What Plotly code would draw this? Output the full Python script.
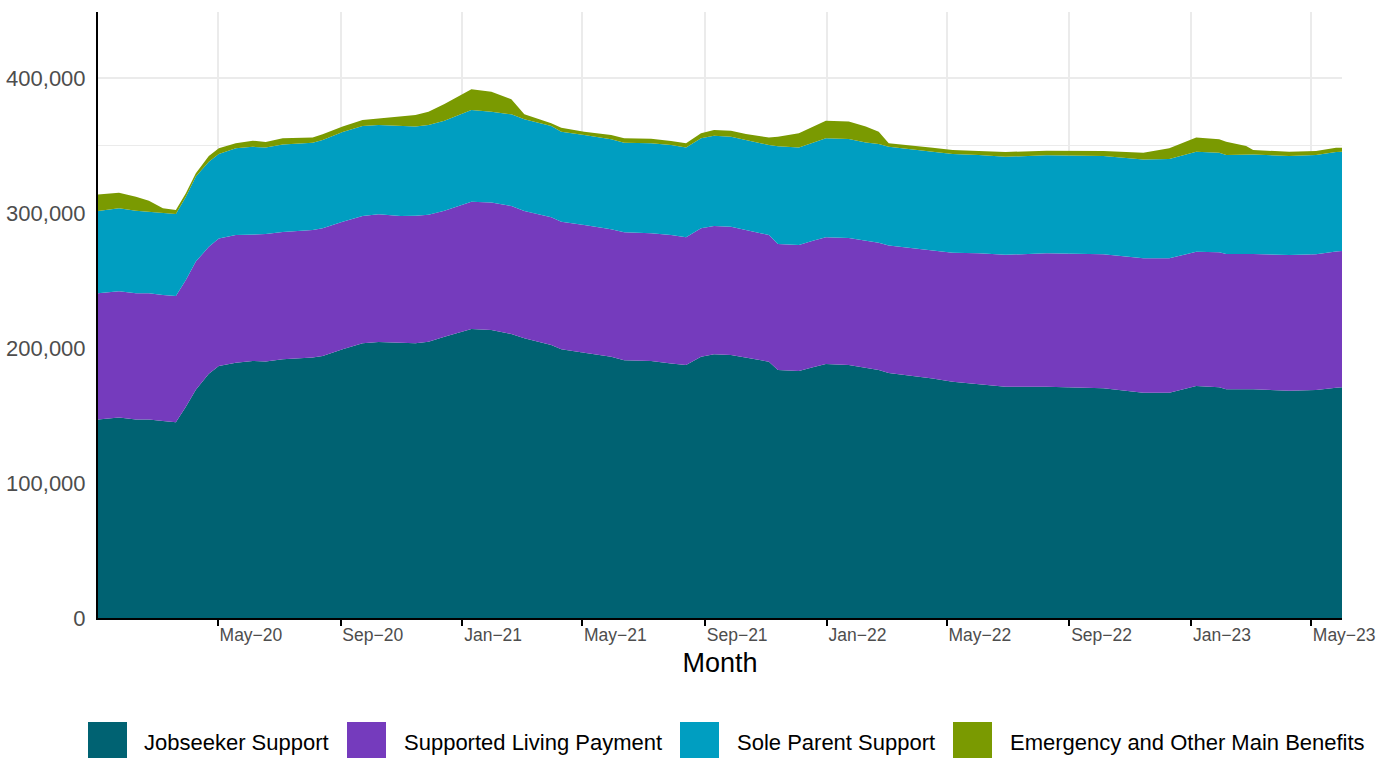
import plotly.graph_objects as go

# ---- data (persons) ----
dates = [
    "2020-01-02", "2020-01-23", "2020-02-09", "2020-02-22", "2020-03-07", "2020-03-20",
    "2020-03-30", "2020-04-09", "2020-04-22", "2020-05-02", "2020-05-19", "2020-06-05",
    "2020-06-18", "2020-07-05", "2020-08-04", "2020-08-14", "2020-09-03", "2020-09-23",
    "2020-10-09", "2020-10-31", "2020-11-15", "2020-11-28", "2020-12-14", "2021-01-10",
    "2021-01-30", "2021-02-19", "2021-03-04", "2021-03-31", "2021-04-10", "2021-05-03",
    "2021-05-30", "2021-06-12", "2021-07-09", "2021-07-29", "2021-08-13", "2021-08-28",
    "2021-09-10", "2021-09-27", "2021-10-12", "2021-11-04", "2021-11-13", "2021-12-04",
    "2021-12-18", "2021-12-31", "2022-01-23", "2022-02-09", "2022-02-22", "2022-03-04",
    "2022-04-17", "2022-05-07", "2022-06-02", "2022-06-29", "2022-08-09", "2022-10-05",
    "2022-11-14", "2022-12-10", "2023-01-06", "2023-01-29", "2023-02-05", "2023-02-25",
    "2023-03-04", "2023-04-09", "2023-05-06", "2023-05-26", "2023-06-01",
]

jobseeker = [
    147000, 148600, 147000, 147000, 146000, 145000,
    156500, 169000, 181000, 186700, 189000, 190400,
    190000, 191600, 193000, 194000, 199000, 203500,
    204400, 204000, 203500, 204700, 208400, 214000,
    213300, 210400, 207200, 202200, 199000, 196500,
    193600, 191000, 190400, 188600, 187400, 193600,
    195300, 194800, 192800, 189900, 183700, 183000,
    185700, 188100, 187400, 185400, 183700, 181500,
    177500, 175000, 173300, 171300, 171300, 170100,
    166900, 166900, 171900, 170900, 169400, 169400,
    169400, 168400, 168900, 170500, 170900,
]

supported_living = [
    93500, 93400, 93500, 93500, 93300, 93500,
    93900, 95000, 94000, 94500, 94700, 94000,
    94400, 94400, 94400, 94700, 94600, 94300,
    94600, 93800, 94500, 94100, 93300, 94400,
    94400, 94800, 94300, 94600, 94600, 94600,
    94300, 94700, 94600, 95100, 94600, 95100,
    95100, 95100, 94600, 93800, 93300, 93300,
    93800, 93900, 94100, 94100, 94300, 94500,
    95100, 95600, 96800, 97800, 98800, 99300,
    99500, 99500, 99400, 100000, 100200, 100200,
    100200, 100500, 100500, 101000, 101000,
]

sole_parent = [
    61000, 61500, 61200, 60500, 60500, 60800,
    61600, 63000, 63000, 62500, 64200, 64600,
    64200, 64800, 64600, 65300, 66400, 66600,
    66200, 66600, 66000, 66400, 66700, 67900,
    67300, 67900, 67900, 67600, 66600, 66700,
    66700, 66400, 66600, 66700, 66600, 66600,
    66900, 66600, 66600, 66700, 72500, 72300,
    72600, 73300, 73300, 72800, 73100, 73000,
    72800, 73100, 72900, 72600, 72600, 72800,
    73300, 73600, 74100, 73800, 73400, 73600,
    73800, 73300, 73600, 73700, 73500,
]

emergency_other = [
    12300, 11500, 10300, 8000, 3700, 2900,
    2600, 2400, 4200, 4300, 3700, 4600,
    4000, 4500, 4000, 4300, 4000, 4500,
    4900, 6900, 8600, 9800, 12300, 15300,
    14900, 11100, 3700, 2000, 3000, 2400,
    3200, 3200, 3500, 2900, 3000, 3700,
    4200, 4500, 4500, 5600, 7000, 10400,
    11900, 13100, 12900, 11700, 9100, 2600,
    3000, 3000, 2900, 3500, 3500, 3700,
    5000, 7900, 10600, 9900, 9800, 6400,
    3300, 3200, 2900, 3200, 3000,
]

series_names = ["Jobseeker Support", "Supported Living Payment",
                "Sole Parent Support", "Emergency and Other Main Benefits"]
series_values = [jobseeker, supported_living, sole_parent, emergency_other]
series_colors = ["#006272", "#753BBD", "#009EC1", "#7A9A01"]

x_tick_vals = ["2020-05-01", "2020-09-01", "2021-01-01", "2021-05-01", "2021-09-01",
               "2022-01-01", "2022-05-01", "2022-09-01", "2023-01-01", "2023-05-01"]
x_tick_text = ["May\u221220", "Sep\u221220", "Jan\u221221", "May\u221221", "Sep\u221221",
               "Jan\u221222", "May\u221222", "Sep\u221222", "Jan\u221223", "May\u221223"]
y_tick_vals = [0, 100000, 200000, 300000, 400000]
y_tick_text = ["0", "100,000", "200,000", "300,000", "400,000"]
y_minor_vals = [50000, 150000, 250000, 350000]

FONT = "Liberation Sans, Arial, Helvetica, sans-serif"
W, H = 1389, 758
ML, MR, MT, MB = 98, 47, 12, 140
PW, PH = W - ML - MR, H - MT - MB

fig = go.Figure()
for name, vals, col in zip(series_names, series_values, series_colors):
    fig.add_trace(go.Scatter(
        x=dates, y=vals, name=name, mode="lines",
        stackgroup="one", line=dict(width=0, color=col),
        fillcolor=col, showlegend=False,
    ))


def px_x(px):
    return (px - ML) / PW


def px_y(py):
    return (H - MB - py) / PH


# custom bottom legend (square keys)
legend_keys = [(88, 142), (347, 402), (680, 735), (953, 1008)]
shapes = []
annotations = []
for (kx, tx), name, col in zip(legend_keys, series_names, series_colors):
    shapes.append(dict(type="rect", xref="paper", yref="paper",
                       x0=px_x(kx), x1=px_x(kx + 39), y0=px_y(722), y1=px_y(762),
                       fillcolor=col, line=dict(width=0), layer="above"))
    annotations.append(dict(xref="paper", yref="paper", x=px_x(tx), y=px_y(742),
                            text=name, showarrow=False, xanchor="left", yanchor="middle",
                            font=dict(size=22, color="black", family=FONT)))

fig.update_layout(
    width=W, height=H,
    margin=dict(l=ML, r=MR, t=MT, b=MB, autoexpand=False),
    plot_bgcolor="white", paper_bgcolor="white",
    font=dict(family=FONT, color="#4D4D4D"),
    showlegend=False,
    shapes=shapes, annotations=annotations,
    xaxis=dict(
        type="date", range=["2020-01-02", "2023-06-01"],
        tickmode="array", tickvals=x_tick_vals, ticktext=x_tick_text,
        ticks="outside", ticklen=6, tickwidth=1.5, tickcolor="black",
        ticklabelposition="outside right",
        tickfont=dict(size=17.5, color="#4D4D4D", family=FONT),
        showline=True, linecolor="black", linewidth=2,
        showgrid=True, gridcolor="#EBEBEB", gridwidth=2, zeroline=False,
        title=dict(text="Month", font=dict(size=27, color="black", family=FONT), standoff=9),
    ),
    yaxis=dict(
        range=[0, 448900],
        tickmode="array", tickvals=y_tick_vals, ticktext=y_tick_text,
        ticks="", ticklabelstandoff=6,
        tickfont=dict(size=22, color="#4D4D4D", family=FONT),
        showline=True, linecolor="black", linewidth=2,
        showgrid=True, gridcolor="#EBEBEB", gridwidth=2, zeroline=False,
        minor=dict(tickmode="array", tickvals=y_minor_vals, showgrid=True,
                   gridcolor="#EBEBEB", gridwidth=1, ticks=""),
    ),
)

fig.write_html("out.html", config={"displayModeBar": False},
               post_script="document.body.style.margin='0';document.body.style.overflow='hidden';")
